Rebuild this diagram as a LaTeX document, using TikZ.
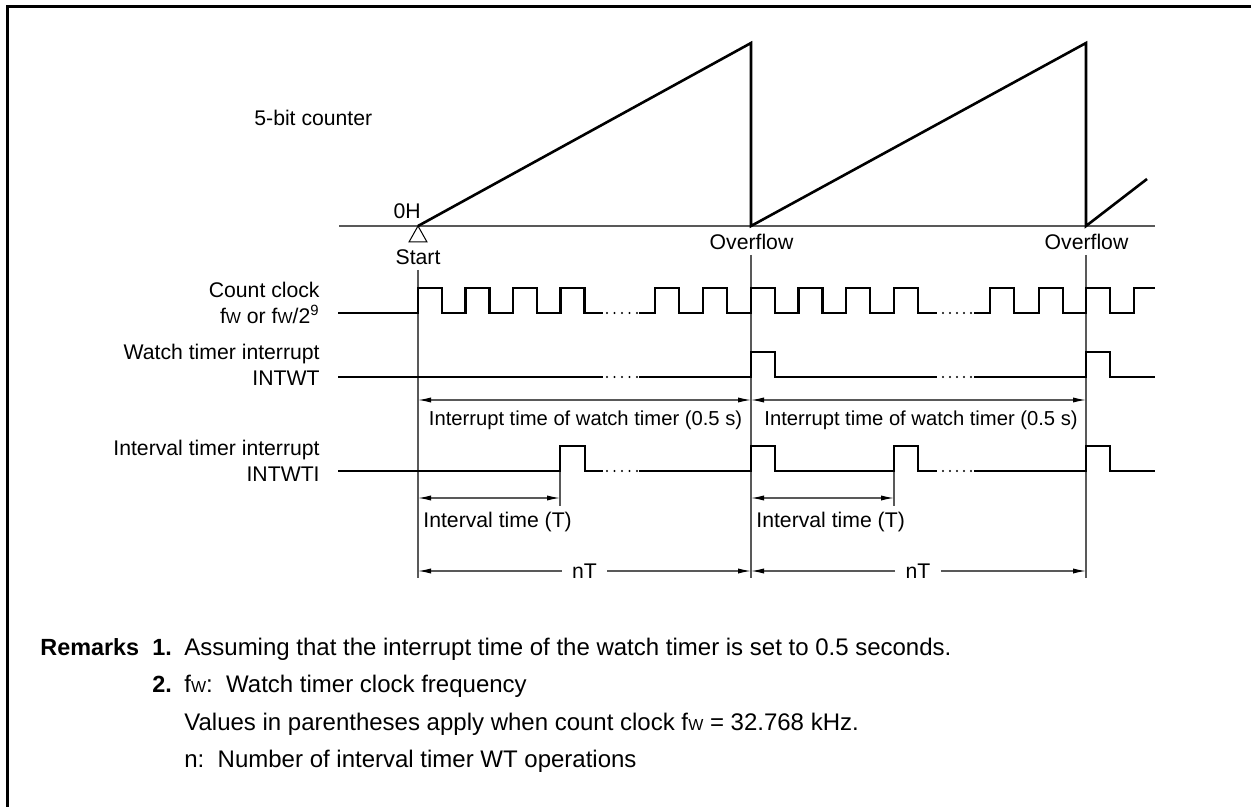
\documentclass[tikz,border=0pt]{standalone}
\usepackage{fontspec}
\setmainfont{Liberation Sans}
\usepackage{tikz}
\usetikzlibrary{arrows.meta,positioning}
\newcommand{\fwtext}{f{\footnotesize W}}

\begin{document}
\begin{tikzpicture}[
    x=0.5pt,
    y=-0.5pt,
    >={Latex[length=6.5pt,width=2.6pt,color=black]},
    every node/.style={font=\fontsize{10.6}{13}\selectfont, inner sep=0pt},
    wave/.style={line width=1.3pt, line join=miter},
    guide/.style={line width=0.6pt, black!65},
    span/.style={line width=0.6pt, black!65},
    rowlabel/.style={align=right, anchor=base east},
    timelabel/.style={anchor=base, font=\fontsize{10.1}{12}\selectfont},
    note/.style={anchor=base west, font=\fontsize{12}{14}\selectfont},
    notenum/.style={anchor=base west, font=\fontsize{11.7}{14}\selectfont\bfseries}
]

\useasboundingbox (0,0) rectangle (1251,807);

% frame
\draw[line width=1.5pt] (7,807) -- (7,7) -- (1251,7);

% counter
\coordinate (start) at (418,226);
\coordinate (ovfa) at (751,226);
\coordinate (ovfb) at (1086,226);
\coordinate (tail) at (1147,179);
\draw[guide] (339,226) -- (1155,226);
\draw[wave] (start) -- (751,43) -- (ovfa) -- (1086,43) -- (ovfb) -- (tail);
\node[anchor=base west] (counter) at (254,126) {5-bit counter};
\node[anchor=base east] (zero) at (421,219) {0H};
\draw[line width=0.5pt] (start) -- (409,242) -- (427,242) -- cycle;
\node[anchor=base] (startlabel) at (418,265) {Start};
\node[anchor=base] (ovfalabel) at (751.5,250) {Overflow};
\node[anchor=base] (ovfblabel) at (1086.5,250) {Overflow};

% guides
\draw[guide] (418,270) -- (418,578);
\draw[guide] (751,255) -- (751,578);
\draw[guide] (1086,255) -- (1086,578);
\draw[guide] (560,471) -- (560,506);
\draw[guide] (894,471) -- (894,506);

% count clock
\node[rowlabel] (clocklabel) at (320,323) {Count clock\\\fwtext{} or \fwtext/2\textsuperscript{9}};
\draw[wave] (338,313)
  \foreach \t in {418,465.7,513,560.7} {-- (\t,313) -- (\t,288) -- (\t+24,288) -- (\t+24,313)} -- (603,313);
\draw[wave] (639,313)
  \foreach \t in {655,703,751,798.5,846,894} {-- (\t,313) -- (\t,288) -- (\t+24,288) -- (\t+24,313)} -- (937,313);
\draw[wave] (974,313)
  \foreach \t in {990,1039,1086} {-- (\t,313) -- (\t,288) -- (\t+24,288) -- (\t+24,313)}
  -- (1134,313) -- (1134,288) -- (1155,288);

% watch timer
\node[rowlabel] (watchlabel) at (320,385) {Watch timer interrupt\\INTWT};
\draw[wave] (338,377) -- (603,377);
\draw[wave] (639,377) -- (751,377) -- (751,352) -- (775,352) -- (775,377) -- (937,377);
\draw[wave] (974,377) -- (1086,377) -- (1086,352) -- (1110,352) -- (1110,377) -- (1155,377);
\draw[span, <->] (418,400) -- (751,400);
\draw[span, <->] (751,400) -- (1086,400);
\node[timelabel] (watcha) at (585.5,425) {Interrupt time of watch timer (0.5 s)};
\node[timelabel] (watchb) at (921,425) {Interrupt time of watch timer (0.5 s)};

% interval timer
\node[rowlabel] (intervallabel) at (320,481) {Interval timer interrupt\\INTWTI};
\draw[wave] (338,471) -- (560,471) -- (560,446) -- (585,446) -- (585,471) -- (603,471);
\draw[wave] (639,471) -- (751,471) -- (751,446) -- (775,446) -- (775,471) -- (894,471) -- (894,446) -- (918,446) -- (918,471) -- (937,471);
\draw[wave] (974,471) -- (1086,471) -- (1086,446) -- (1110,446) -- (1110,471) -- (1155,471);
\draw[span, <->] (418,498) -- (560,498);
\draw[span, <->] (751,498) -- (894,498);
\node[anchor=base west] (intervala) at (423,527) {Interval time (T)};
\node[anchor=base west] (intervalb) at (756,527) {Interval time (T)};

% dots
\foreach \y in {313,377,471} {
  \foreach \x in {607,614.5,622,629.5,637,943,950,957,964,971} {
    \fill (\x,\y) circle (0.6pt);
  }
}

% nT
\node (nta) at (584.5,571) {nT};
\node (ntb) at (918,571) {nT};
\draw[span, ->] (nta.west) ++(-10,0) -- (418,571);
\draw[span, ->] (nta.east) ++(10,0) -- (751,571);
\draw[span, ->] (ntb.west) ++(-10,0) -- (751,571);
\draw[span, ->] (ntb.east) ++(10,0) -- (1086,571);

% remarks
\node[notenum] (remarks) at (40,655.5) {Remarks};
\node[notenum] (numa) at (152,655.5) {1.};
\node[note] (notea) at (184,655.5) {Assuming that the interrupt time of the watch timer is set to 0.5 seconds.};
\node[notenum] (numb) at (152,692) {2.};
\node[note] (noteb) at (184,692) {\fwtext:\ \ Watch timer clock frequency};
\node[note] (notec) at (184,730.5) {Values in parentheses apply when count clock \fwtext{} = 32.768 kHz.};
\node[note] (noted) at (184,767.5) {n:\ \ Number of interval timer WT operations};

\end{tikzpicture}
\end{document}
